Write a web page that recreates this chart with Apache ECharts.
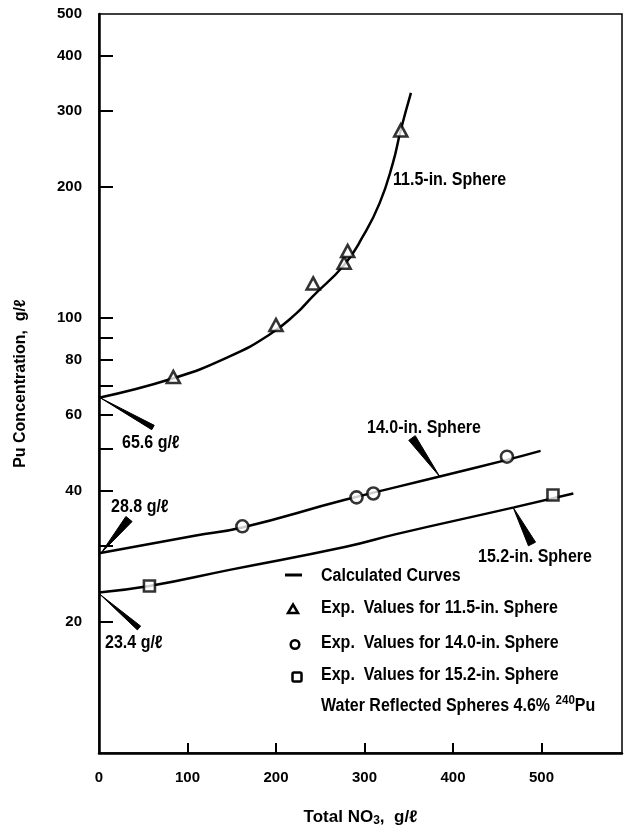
<!DOCTYPE html>
<html>
<head>
<meta charset="utf-8">
<script src="https://cdn.jsdelivr.net/npm/echarts@6/dist/echarts.min.js"></script>
<style>html,body{margin:0;padding:0;background:#fff}#c{width:625px;height:831px}</style>
</head>
<body>
<div id="c"></div>
<script>
// ---- data ----
const xLabelValues = [0, 100, 200, 300, 400, 500];
const xTickValues = [100, 200, 300, 400, 500];
const yLabelValues = [20, 40, 60, 80, 100, 200, 300, 400, 500];
const yTickValues = [20, 30, 40, 50, 60, 70, 80, 90, 100, 200, 300, 400];

const curve115 = [[0,65.6],[84,72.7],[147,81.5],[192,91.4],[223,102.5],[241,111.9],[277,132.4],[298,153.8],[317,183.5],[332,226.8],[341,270.5],[352.5,329.5]];
const curve140 = [[0,28.8],[108,31.6],[162,33.0],[278,38.2],[385,43.2],[461,47.2],[499,49.5]];
const curve152 = [[0,23.4],[57,24.2],[149,26.4],[279,29.8],[337,31.9],[469,36.7],[536,39.5]];

const exp115 = [[84,73.2],[200,96.4],[242,120.1],[277,134],[281,142.6],[341,270]];
const exp140 = [[162,33.2],[291,38.7],[310,39.5],[461,48.0]];
const exp152 = [[57,24.2],[513,39.2]];

const FONT = "'Liberation Sans', Arial, sans-serif";
const chart = echarts.init(document.getElementById('c'));

const lineStyle = {color:'#000', width:2.5};
function lineSeries(data){
  return {type:'line', data, symbol:'none', smooth:0.5, lineStyle, z:2, silent:true};
}
function expSeries(name, data, symbol, size){
  return {type:'scatter', name, data, symbol, symbolSize:size, z:3,
    itemStyle:{color:'#fff', borderColor:'#000', borderWidth:2.6}};
}

chart.setOption({
  animation:false,
  backgroundColor:'#fff',
  textStyle:{fontFamily:FONT},
  grid:{left:99, right:3, top:14, bottom:78, outerBoundsMode:'none', containLabel:false,
    show:true, borderColor:'#000', borderWidth:1.5, backgroundColor:'transparent'},
  xAxis:{
    type:'value', min:0, max:591, interval:100,
    axisLine:{show:true, onZero:false, lineStyle:{color:'#000', width:2.5}},
    axisTick:{show:true, inside:true, length:10, customValues:xTickValues, lineStyle:{color:'#000', width:2}},
    axisLabel:{customValues:xLabelValues, margin:17, color:'#000', fontSize:15, fontWeight:'bold', fontFamily:FONT},
    splitLine:{show:false},
    name:'Total NO{sub|3},  g/ℓ', nameLocation:'middle', nameGap:54,
    nameTextStyle:{color:'#000', fontSize:17, fontFamily:FONT, fontWeight:'bold',
      rich:{sub:{fontSize:12, fontFamily:FONT, fontWeight:'bold', color:'#000', verticalAlign:'bottom', padding:[8,0,0,0]}}}
  },
  yAxis:{
    type:'log', logBase:10, min:10, max:500,
    axisLine:{show:true, lineStyle:{color:'#000', width:2.5}},
    axisTick:{show:true, inside:true, length:14, customValues:yTickValues, lineStyle:{color:'#000', width:2}},
    minorTick:{show:false},
    axisLabel:{customValues:yLabelValues, margin:17, color:'#000', fontSize:15, fontWeight:'bold', fontFamily:FONT},
    splitLine:{show:false},
    name:'Pu Concentration,  g/ℓ', nameLocation:'middle', nameGap:70, nameRotate:90,
    nameTextStyle:{color:'#000', fontSize:16, fontFamily:FONT, fontWeight:'bold'}
  },
  series:[
    lineSeries(curve115), lineSeries(curve140), lineSeries(curve152),
    expSeries('Exp. Values for 11.5-in. Sphere', exp115, 'triangle', [13,12]),
    expSeries('Exp. Values for 14.0-in. Sphere', exp140, 'circle', 12),
    expSeries('Exp. Values for 15.2-in. Sphere', exp152, 'rect', 11)
  ]
});

// ---- annotations ----
const SX = 0.89;
const ANN_FONT = 'bold 18px ' + FONT;
const mctx = document.createElement('canvas').getContext('2d');
function measure(text, font){ mctx.font = font; return mctx.measureText(text).width; }
function px(p){ return chart.convertToPixel({gridIndex:0}, p); }
function wedge(tip, tail, w){
  const dx = tail[0]-tip[0], dy = tail[1]-tip[1];
  const L = Math.sqrt(dx*dx+dy*dy);
  const nx = -dy/L*w/2, ny = dx/L*w/2;
  return {type:'polygon', shape:{points:[[tip[0],tip[1]],[tail[0]+nx,tail[1]+ny],[tail[0]-nx,tail[1]-ny]]},
    style:{fill:'#000', stroke:'#000', lineWidth:1}, z:10};
}
function txt(x, y, text, font){
  return {type:'text', x, y, z:10, scaleX:SX, style:{text, fill:'#000', font:font||ANN_FONT,
    textAlign:'left', textVerticalAlign:'middle'}};
}
const t656 = px([0,65.6]), t288 = px([0,28.8]), t234 = px([0,23.4]);
const t140 = px([385,43.2]), t152 = px([468,36.7]);

const g = [
  wedge([t656[0]+1, t656[1]], [153, 427.5], 5),
  wedge([t288[0]+2, t288[1]], [129, 519], 8),
  wedge([t234[0]+1, t234[1]+2], [139, 628], 5),
  wedge(t140, [412, 438], 8),
  wedge(t152, [532, 544], 8),
  txt(122, 443, '65.6 g/ℓ'),
  txt(111, 507, '28.8 g/ℓ'),
  txt(105, 643, '23.4 g/ℓ'),
  txt(393, 180, '11.5-in. Sphere'),
  txt(367, 428, '14.0-in. Sphere'),
  txt(478, 557, '15.2-in. Sphere'),
  // legend
  {type:'line', shape:{x1:285, y1:575, x2:302, y2:575}, style:{stroke:'#000', lineWidth:3}, z:10},
  txt(321, 576, 'Calculated Curves'),
  {type:'polygon', shape:{points:[[293,604.5],[298,613],[288,613]]}, style:{fill:'#fff', stroke:'#000', lineWidth:2.5}, z:10},
  txt(321, 608, 'Exp.  Values for 11.5-in. Sphere'),
  {type:'circle', shape:{cx:295, cy:644.5, r:4.3}, style:{fill:'#fff', stroke:'#000', lineWidth:2.5}, z:10},
  txt(321, 643, 'Exp.  Values for 14.0-in. Sphere'),
  {type:'rect', shape:{x:292.5, y:672.5, width:9, height:9, r:1.5}, style:{fill:'#fff', stroke:'#000', lineWidth:2.5}, z:10}
];
g.push(txt(321, 675, 'Exp.  Values for 15.2-in. Sphere'));
// "Water Reflected Spheres 4.6% 240Pu" with superscript
const waterMain = 'Water Reflected Spheres 4.6% ';
const SUP_FONT = 'bold 13px ' + FONT;
const wMain = measure(waterMain, ANN_FONT) * SX;
const wSup = measure('240', SUP_FONT) * SX;
g.push(txt(321, 706, waterMain));
g.push(txt(322 + wMain, 700, '240', SUP_FONT));
g.push(txt(322 + wMain + wSup, 706, 'Pu'));
chart.setOption({graphic:g});
</script>
</body>
</html>
